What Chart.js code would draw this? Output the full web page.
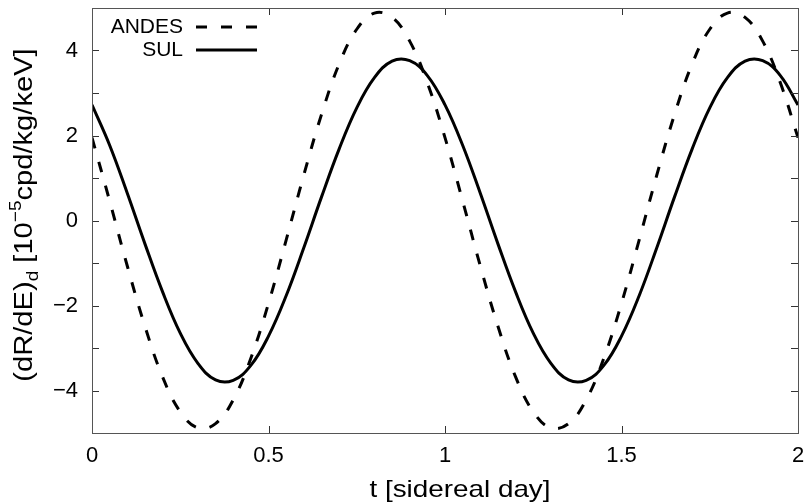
<!DOCTYPE html>
<html>
<head>
<meta charset="utf-8">
<script src="https://cdn.jsdelivr.net/npm/chart.js@4.4.1/dist/chart.umd.min.js"></script>
<style>
  html, body { margin: 0; padding: 0; background: #fff; }
  #wrap { width: 806px; height: 504px; }
</style>
</head>
<body>
<div id="wrap"><canvas id="chart" width="806" height="504"></canvas></div>
<script>
// sidereal time samples [day]
const times = [
  0, 0.05, 0.1, 0.15, 0.2, 0.25, 0.3, 0.35, 0.4, 0.45,
  0.5, 0.55, 0.6, 0.65, 0.7, 0.75, 0.8, 0.85, 0.9, 0.95,
  1, 1.05, 1.1, 1.15, 1.2, 1.25, 1.3, 1.35, 1.4, 1.45,
  1.5, 1.55, 1.6, 1.65, 1.7, 1.75, 1.8, 1.85, 1.9, 1.95, 2
]

// (dR/dE)_d values, 10^-5 cpd/kg/keV
const andes = [
  1.95, 0.46, -1.07, -2.49, -3.68, -4.50, -4.88, -4.78, -4.22, -3.24,
  -1.95, -0.46, 1.07, 2.49, 3.68, 4.50, 4.88, 4.78, 4.22, 3.24,
  1.95, 0.46, -1.07, -2.49, -3.68, -4.50, -4.88, -4.78, -4.22, -3.24,
  -1.95, -0.46, 1.07, 2.49, 3.68, 4.50, 4.88, 4.78, 4.22, 3.24, 1.95
]
const sul = [
  2.72, 1.77, 0.64, -0.55, -1.68, -2.65, -3.36, -3.75, -3.76, -3.41,
  -2.72, -1.77, -0.64, 0.55, 1.68, 2.65, 3.36, 3.75, 3.76, 3.41,
  2.72, 1.77, 0.64, -0.55, -1.68, -2.65, -3.36, -3.75, -3.76, -3.41,
  -2.72, -1.77, -0.64, 0.55, 1.68, 2.65, 3.36, 3.75, 3.76, 3.41, 2.72
]

const xTicks = [0, 0.5, 1, 1.5, 2]
const yTicks = [-5, -4, -3, -2, -1, 0, 1, 2, 3, 4, 5]

const FONT = '"Liberation Sans", Arial, Helvetica, sans-serif'
const DASH = [11, 14]

function toPoints(ys) {
  return times.map((t, i) => ({ x: t, y: ys[i] }))
}

function fmt(v) {
  return v < 0 ? '\u2212' + Math.abs(v) : String(v)
}

// the reference text is a bit wider than the font, so stretch along the text
function stretchedText(ctx, parts, cx, cy, rot, sx) {
  let total = 0
  parts.forEach(p => { ctx.font = p.f; p.w = ctx.measureText(p.s).width; total += p.w })
  ctx.save()
  ctx.translate(cx, cy)
  ctx.rotate(rot)
  ctx.scale(sx, 1)
  ctx.textAlign = 'left'
  ctx.textBaseline = 'alphabetic'
  let x = -total / 2
  parts.forEach(p => {
    ctx.font = p.f
    ctx.fillText(p.s, x, p.dy)
    x += p.w
  })
  ctx.restore()
}

function noPad(s) {
  s.paddingTop = 0; s.paddingBottom = 0; s.paddingLeft = 0; s.paddingRight = 0
}

// frame, inward ticks (mirrored), legend and axis titles
const decor = {
  id: 'decor',
  afterDatasetsDraw(chart) {
    const { ctx, chartArea: a, scales } = chart
    const tl = 7
    ctx.save()
    ctx.strokeStyle = '#333'
    ctx.lineWidth = 1
    ctx.beginPath()
    xTicks.forEach(v => {
      const px = Math.round(scales.x.getPixelForValue(v)) + 0.5
      ctx.moveTo(px, a.bottom); ctx.lineTo(px, a.bottom - tl)
      ctx.moveTo(px, a.top); ctx.lineTo(px, a.top + tl)
    })
    yTicks.forEach(v => {
      const py = Math.round(scales.y.getPixelForValue(v)) + 0.5
      ctx.moveTo(a.left, py); ctx.lineTo(a.left + tl, py)
      ctx.moveTo(a.right, py); ctx.lineTo(a.right - tl, py)
    })
    ctx.stroke()
    ctx.strokeStyle = '#555'
    ctx.strokeRect(Math.round(a.left) + 0.5, Math.round(a.top) + 0.5,
      Math.round(a.right - a.left), Math.round(a.bottom - a.top))

    // legend
    ctx.fillStyle = '#000'
    ctx.font = '21px ' + FONT
    ctx.textAlign = 'right'
    ctx.textBaseline = 'middle'
    const rows = [
      { label: 'ANDES', dash: DASH, y: 27 },
      { label: 'SUL', dash: [], y: 50 }
    ]
    rows.forEach(r => {
      ctx.fillText(r.label, 183, r.y)
      ctx.beginPath()
      ctx.setLineDash(r.dash)
      ctx.lineWidth = 3
      ctx.strokeStyle = '#000'
      ctx.moveTo(196, r.y); ctx.lineTo(257, r.y)
      ctx.stroke()
    })
    ctx.setLineDash([])
    ctx.restore()

    ctx.save()
    ctx.fillStyle = '#000'
    // x title
    stretchedText(ctx, [{ s: 't [sidereal day]', f: '24px ' + FONT, dy: 0 }], 460, 497, 0, 1.16)

    // y title with subscript and superscript
    const big = '26px ' + FONT
    const small = '17px ' + FONT
    stretchedText(ctx, [
      { s: '(dR/dE)', f: big, dy: 0 },
      { s: 'd', f: small, dy: 6 },
      { s: ' [10', f: big, dy: 0 },
      { s: '\u22125', f: small, dy: -11 },
      { s: 'cpd/kg/keV]', f: big, dy: 0 }
    ], 32, 215, -Math.PI / 2, 1.12)
    ctx.restore()
  }
}

const lineStyle = {
  borderColor: '#000',
  borderWidth: 3,
  pointRadius: 0,
  tension: 0.4,
  fill: false
}

new Chart(document.getElementById('chart'), {
  type: 'line',
  data: {
    datasets: [
      Object.assign({ label: 'ANDES', data: toPoints(andes), borderDash: DASH }, lineStyle),
      Object.assign({ label: 'SUL', data: toPoints(sul) }, lineStyle)
    ]
  },
  options: {
    responsive: false,
    animation: false,
    layout: { padding: { top: 8, right: 8, left: 0, bottom: 0 } },
    plugins: {
      legend: { display: false },
      tooltip: { enabled: false }
    },
    scales: {
      x: {
        type: 'linear',
        min: 0,
        max: 2,
        grid: { display: false, drawTicks: false },
        border: { display: false },
        afterFit: s => { s.height = 71; noPad(s) },
        afterBuildTicks: s => { s.ticks = xTicks.map(v => ({ value: v })) },
        ticks: {
          color: '#000',
          padding: 10,
          font: { family: FONT, size: 22 },
          callback: v => fmt(v)
        }
      },
      y: {
        min: -5,
        max: 5,
        grid: { display: false, drawTicks: false },
        border: { display: false },
        afterFit: s => { s.width = 92; noPad(s) },
        afterBuildTicks: s => { s.ticks = yTicks.map(v => ({ value: v })) },
        ticks: {
          color: '#000',
          padding: 14,
          font: { family: FONT, size: 22 },
          callback: v => (v % 2 === 0 && Math.abs(v) < 5 ? fmt(v) : '')
        }
      }
    }
  },
  plugins: [decor]
})
</script>
</body>
</html>
